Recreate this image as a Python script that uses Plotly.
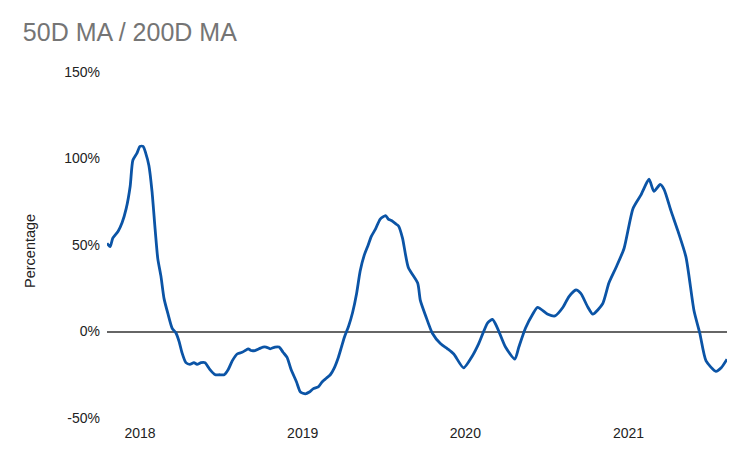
import plotly.graph_objects as go

# 50-day MA over 200-day MA (percent)
dates = [
    '2017-10-19', '2017-10-26', '2017-11-01', '2017-11-13', '2017-11-22', '2017-12-01',
    '2017-12-10', '2017-12-16', '2017-12-25', '2018-01-01', '2018-01-08', '2018-01-14',
    '2018-01-21', '2018-01-28', '2018-02-04', '2018-02-10', '2018-02-17', '2018-02-24',
    '2018-03-05', '2018-03-14', '2018-03-23', '2018-03-30', '2018-04-05', '2018-04-14',
    '2018-04-23', '2018-05-02', '2018-05-09', '2018-05-18', '2018-05-27', '2018-06-07',
    '2018-06-19', '2018-06-28', '2018-07-09', '2018-07-18', '2018-07-27', '2018-08-07',
    '2018-08-18', '2018-08-25', '2018-09-01', '2018-09-07', '2018-09-16', '2018-09-25',
    '2018-10-04', '2018-10-11', '2018-10-20', '2018-10-31', '2018-11-09', '2018-11-18',
    '2018-11-27', '2018-12-06', '2018-12-18', '2018-12-27', '2019-01-07', '2019-01-16',
    '2019-01-25', '2019-02-05', '2019-02-14', '2019-02-23', '2019-03-04', '2019-03-13',
    '2019-03-22', '2019-03-29', '2019-04-05', '2019-04-14', '2019-04-23', '2019-05-02',
    '2019-05-10', '2019-05-19', '2019-05-28', '2019-06-04', '2019-06-13', '2019-06-24',
    '2019-07-06', '2019-07-12', '2019-07-20', '2019-07-30', '2019-08-04', '2019-08-13',
    '2019-08-26', '2019-09-16', '2019-09-22', '2019-10-04', '2019-10-19', '2019-11-06',
    '2019-11-22', '2019-12-06', '2019-12-28', '2020-01-17', '2020-01-31', '2020-02-20',
    '2020-03-02', '2020-03-13', '2020-03-31', '2020-04-21', '2020-04-30', '2020-05-15',
    '2020-05-31', '2020-06-11', '2020-07-04', '2020-07-20', '2020-08-07', '2020-08-20',
    '2020-09-05', '2020-09-16', '2020-10-02', '2020-10-13', '2020-11-04', '2020-11-18',
    '2020-12-04', '2020-12-22', '2021-01-11', '2021-01-29', '2021-02-16', '2021-02-27',
    '2021-03-13', '2021-03-22', '2021-04-06', '2021-04-22', '2021-05-10', '2021-05-28',
    '2021-06-10', '2021-06-24', '2021-07-16', '2021-07-28', '2021-08-10',
]
ratio_pct = [
    51, 49, 54, 58, 63, 71,
    84, 99, 103, 107, 107, 103,
    96, 81, 59, 42, 32, 19,
    10, 2, -1, -6, -12, -18,
    -19, -18, -19, -18, -18, -22,
    -25, -25, -25, -22, -17, -13,
    -12, -11, -10, -11, -11, -10,
    -9, -9, -10, -9, -9, -12,
    -15, -22, -29, -35, -36, -35,
    -33, -32, -29, -27, -25, -21,
    -15, -9, -3, 3, 11, 22,
    35, 44, 50, 55, 59, 65,
    67, 65, 64, 62, 61, 54,
    37, 28, 18, 9, -1, -7,
    -10, -13, -21, -14, -7, 5,
    7, 2, -9, -16, -9, 2,
    10, 14, 10, 9, 14, 20,
    24, 22, 14, 10, 16, 28,
    37, 48, 71, 79, 88, 81,
    85, 82, 70, 58, 43, 12,
    -1, -17, -23, -21, -16,
]

year_ticks = ['2018-01-01', '2019-01-01', '2020-01-01', '2021-01-01']
year_labels = ['2018', '2019', '2020', '2021']
pct_ticks = [-50, 0, 50, 100, 150]

fig = go.Figure()
fig.add_trace(go.Scatter(
    x=dates, y=ratio_pct, mode='lines',
    line=dict(color='#0b54a6', width=2.8, shape='spline', smoothing=0.6),
    showlegend=False,
))

# page body adds an 8px margin, so the figure is a bit smaller than the window
fig.update_layout(
    width=742, height=455,
    paper_bgcolor='white', plot_bgcolor='white',
    margin=dict(l=99, r=23, t=64, b=45),
    font=dict(family='Liberation Sans, Arial, sans-serif', size=14, color='#222222'),
    title=dict(text='50D MA / 200D MA', x=0.02, xanchor='left', y=0.965, yanchor='top',
               font=dict(size=25, color='#757575')),
)

# axis title as an annotation so it can sit a little below the centre, like the original
fig.add_annotation(
    text='Percentage', textangle=-90, showarrow=False,
    xref='paper', yref='paper', x=-0.124, y=0.483,
    xanchor='center', yanchor='middle',
    font=dict(size=14.5, color='#222222'),
)

fig.update_xaxes(
    range=[dates[0], dates[-1]],
    tickvals=year_ticks, ticktext=year_labels,
    showgrid=False, zeroline=False, showline=False, ticks='',
    ticklabelstandoff=5,
    tickfont=dict(size=14, color='#222222'),
)
fig.update_yaxes(
    range=[-50, 150],
    tickvals=pct_ticks, ticktext=[f'{v}%' for v in pct_ticks],
    showgrid=False, showline=False, ticks='',
    zeroline=True, zerolinecolor='#666666', zerolinewidth=1.5,
    ticklabelstandoff=6,
    tickfont=dict(size=14, color='#222222'),
)

fig.write_html('out.html')
